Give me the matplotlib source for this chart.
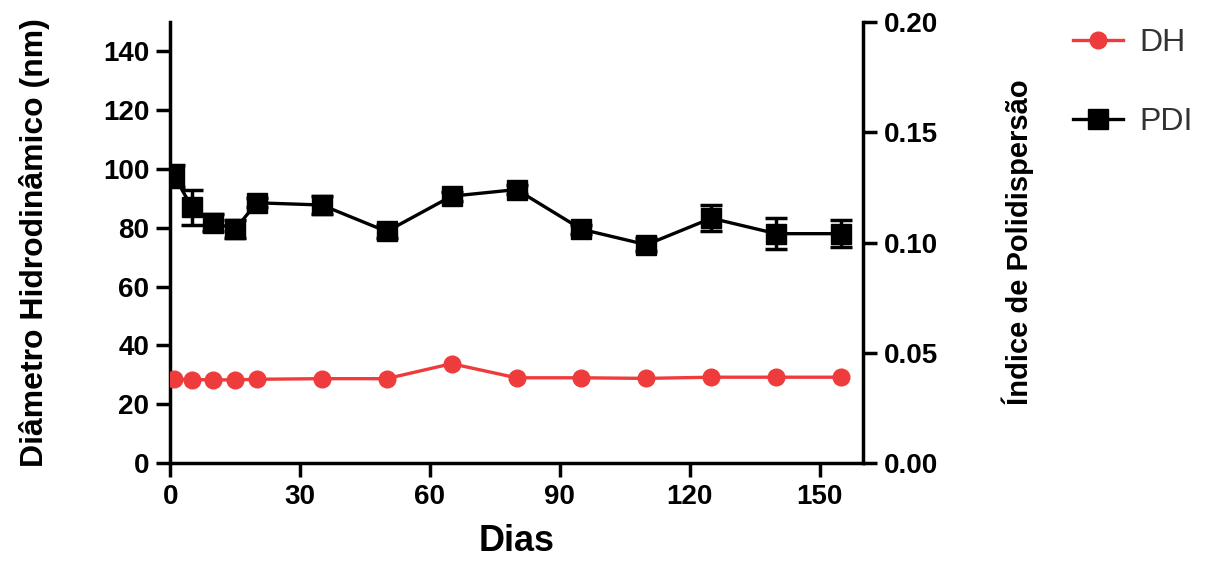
import numpy as np
import matplotlib.pyplot as plt
from matplotlib.lines import Line2D

plt.rcParams['font.family'] = ['Liberation Sans', 'DejaVu Sans']

# dados
dias = [1, 5, 10, 15, 20, 35, 50, 65, 80, 95, 110, 125, 140, 155]
dh = [28.5, 28.4, 28.3, 28.3, 28.5, 28.7, 28.7, 33.8, 29.0, 29.0, 28.8, 29.2, 29.2, 29.2]
pdi = [0.130, 0.116, 0.109, 0.106, 0.118, 0.117, 0.105, 0.121, 0.124, 0.106, 0.099, 0.111, 0.104, 0.104]
pdi_err = [0.005, 0.008, 0.004, 0.004, 0.002, 0.004, 0.003, 0.002, 0.002, 0.002, 0.003, 0.006, 0.007, 0.006]

x_ticks = [0, 30, 60, 90, 120, 150]
y_ticks = [0, 20, 40, 60, 80, 100, 120, 140]
y2_ticks = [0.00, 0.05, 0.10, 0.15, 0.20]

vermelho = '#EE3B3B'

fig = plt.figure(figsize=(12.24, 5.62), dpi=100)
ax = fig.add_axes([0.139, 0.176, 0.566, 0.785])
ax2 = ax.twinx()

ax.plot(dias, dh, '-o', color=vermelho, lw=2.4, ms=12, zorder=3)
ax2.errorbar(dias, pdi, yerr=pdi_err, fmt='-s', color='black', lw=2.4, ms=14,
             capsize=8, capthick=2.5, elinewidth=2.5)

ax.set_xlim(0, 160)
ax.set_ylim(0, 150)
ax2.set_ylim(0, 0.20)
ax.set_xticks(x_ticks)
ax.set_yticks(y_ticks)
ax2.set_yticks(y2_ticks)
ax2.set_yticklabels([f'{v:.2f}' for v in y2_ticks])

for a in (ax, ax2):
    a.spines['top'].set_visible(False)
    for s in a.spines.values():
        s.set_linewidth(2.5)
    a.tick_params(direction='out', length=10, width=2.5, labelsize=20, pad=5)
    for lab in a.get_xticklabels() + a.get_yticklabels():
        lab.set_fontweight('bold')
ax.spines['right'].set_visible(False)
ax2.spines['left'].set_visible(False)
ax2.spines['bottom'].set_visible(False)

ax.set_xlabel('Dias', fontsize=26, fontweight='bold', labelpad=10)
ax.set_ylabel('Diâmetro Hidrodinâmico (nm)', fontsize=23, fontweight='bold', labelpad=38)
ax2.set_ylabel('Índice de Polidispersão', fontsize=21, fontweight='bold', labelpad=46)

h_dh = Line2D([], [], color=vermelho, marker='o', lw=2.4, ms=12)
h_pdi = Line2D([], [], color='black', marker='s', lw=2.4, ms=14)
fig.legend(handles=[h_dh, h_pdi], labels=['DH', 'PDI'], loc='upper left',
           bbox_to_anchor=(0.8766, 0.95), frameon=False, fontsize=23,
           borderpad=0, borderaxespad=0,
           labelspacing=1.53, handlelength=1.56, handletextpad=0.53,
           labelcolor='#333333')

plt.savefig('out.png', dpi=100)
